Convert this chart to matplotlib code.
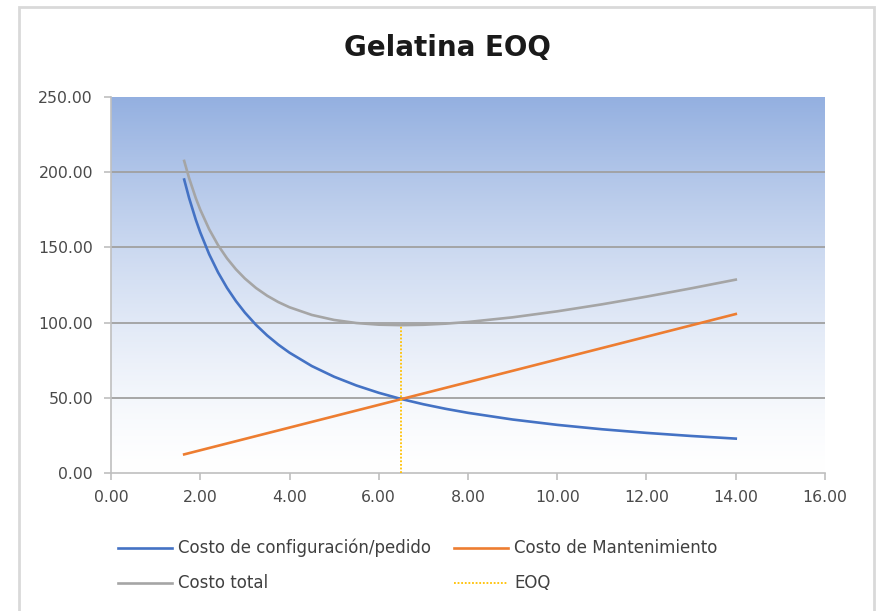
import numpy as np
import matplotlib
matplotlib.use("Agg")
import matplotlib.pyplot as plt
from matplotlib.lines import Line2D
from matplotlib.patches import Rectangle

plt.rcParams["font.family"] = ["DejaVu Sans"]

# Lot size (units) and the annual costs for each lot size
cantidad = [1.64, 1.75, 1.9, 2.0, 2.2, 2.4, 2.6, 2.8, 3.0, 3.25, 3.5, 3.75,
            4.0, 4.5, 5.0, 5.5, 6.0, 6.5, 7.0, 7.5, 8.0, 9.0, 10.0, 11.0,
            12.0, 13.0, 14.0]
costo_pedido = [195.12, 182.86, 168.42, 160.00, 145.45, 133.33, 123.08,
                114.29, 106.67, 98.46, 91.43, 85.33, 80.00, 71.11, 64.00,
                58.18, 53.33, 49.23, 45.71, 42.67, 40.00, 35.56, 32.00,
                29.09, 26.67, 24.62, 22.86]
costo_mant = [12.38, 13.21, 14.35, 15.10, 16.61, 18.12, 19.63, 21.14, 22.65,
              24.54, 26.43, 28.31, 30.20, 33.98, 37.75, 41.53, 45.30, 49.08,
              52.85, 56.63, 60.40, 67.95, 75.50, 83.05, 90.60, 98.15, 105.70]
costo_total = [207.50, 196.07, 182.77, 175.10, 162.06, 151.45, 142.71,
               135.43, 129.32, 123.00, 117.86, 113.64, 110.20, 105.09,
               101.75, 99.71, 98.63, 98.31, 98.56, 99.30, 100.40, 103.51,
               107.50, 112.14, 117.27, 122.77, 128.56]
eoq_x = [6.5, 6.5]
eoq_y = [0.0, 98.31]

W, H = 878, 611
fig = plt.figure(figsize=(W / 100, H / 100), dpi=100)
fig.patch.set_facecolor("white")

# chart frame
fig.add_artist(Rectangle((19 / W, -0.01), 855 / W, 1 - 7 / H + 0.01,
                         transform=fig.transFigure, fill=False,
                         edgecolor="#d9d9d9", linewidth=2))

ax = fig.add_axes([111 / W, 1 - 473 / H, 714 / W, 376 / H])
ax.set_xlim(0, 16)
ax.set_ylim(0, 250)

# vertical blue-to-white gradient in the plot area
grad = np.linspace(0, 1, 256)
top = np.array([0.58, 0.69, 0.88])
bottom = np.array([1.0, 1.0, 1.0])
img = bottom + (top - bottom) * (grad ** 1.4)[:, None]
img = img.reshape(256, 1, 3)
ax.imshow(img, extent=[0, 16, 0, 250], origin="lower", aspect="auto", zorder=0)

for y in [50, 100, 150, 200]:
    ax.axhline(y, color="#a0a0a0", linewidth=1.3, zorder=1)

ax.plot(cantidad, costo_pedido, color="#4472c4", linewidth=1.9, zorder=3)
ax.plot(cantidad, costo_mant, color="#ed7d31", linewidth=1.9, zorder=3)
ax.plot(cantidad, costo_total, color="#a5a5a5", linewidth=1.9, zorder=3)
ax.plot(eoq_x, eoq_y, color="#ffc000", linewidth=1.3, linestyle=(0, (1, 1)), zorder=4)

for s in ["top", "right"]:
    ax.spines[s].set_visible(False)
for s in ["left", "bottom"]:
    ax.spines[s].set_color("#bfbfbf")
    ax.spines[s].set_linewidth(1.2)

ax.set_xticks(np.arange(0, 17, 2))
ax.set_yticks(np.arange(0, 251, 50))
ax.set_xticklabels([f"{v:.2f}" for v in np.arange(0, 17, 2)])
ax.set_yticklabels([f"{v:.2f}" for v in np.arange(0, 251, 50)])
ax.tick_params(axis="both", colors="#bfbfbf", labelcolor="#4a4a4a",
               labelsize=11.3, length=5, width=1.2, direction="out")
ax.tick_params(axis="x", pad=7)
ax.tick_params(axis="y", pad=8)

fig.text(447 / W, 1 - 48 / H, "Gelatina EOQ", ha="center", va="center",
         fontsize=20, fontweight="bold", color="#1a1a1a")

# legend rows drawn in figure pixels
leg = [
    (118, 548, "#4472c4", "-", "Costo de configuración/pedido"),
    (454, 548, "#ed7d31", "-", "Costo de Mantenimiento"),
    (118, 583, "#a5a5a5", "-", "Costo total"),
    (454, 583, "#ffc000", (0, (1, 1)), "EOQ"),
]
for x0, y0, c, ls, lab in leg:
    yy = 1 - y0 / H
    fig.add_artist(Line2D([x0 / W, (x0 + 54) / W], [yy, yy], color=c,
                          linewidth=1.9 if ls == "-" else 1.3, linestyle=ls,
                          transform=fig.transFigure))
    fig.text((x0 + 60) / W, yy, lab, ha="left", va="center",
             fontsize=12, color="#404040")

fig.savefig("out.png", dpi=100)
